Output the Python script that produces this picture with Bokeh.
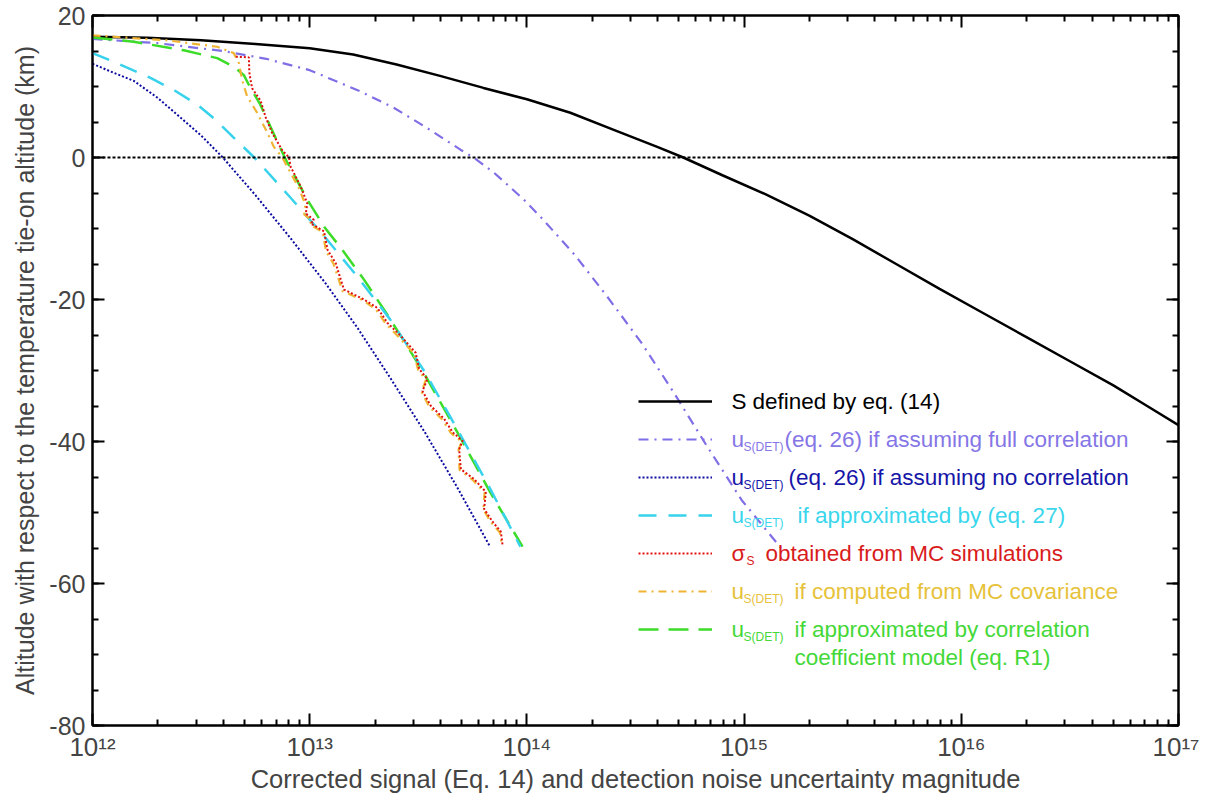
import numpy as np
from bokeh.plotting import figure
from bokeh.models import (Range1d, LogAxis, LinearAxis, FixedTicker, SingleIntervalTicker,
                          Span, Legend, LegendItem, Label)
from bokeh.embed import file_html
from bokeh.resources import INLINE

# ---------------- data (x given as log10 of the signal magnitude, y = altitude km) -------------
s_logx = [12.0, 12.25, 12.5, 12.75, 13.0, 13.2, 13.4, 13.6, 13.8, 14.0, 14.2, 14.4, 14.6, 14.72,
          14.9, 15.1, 15.3, 15.5, 15.7, 15.9, 16.1, 16.3, 16.5, 16.7, 16.85, 17.0]
s_alt = [17.0, 16.85, 16.5, 16.0, 15.4, 14.5, 13.1, 11.5, 9.8, 8.2, 6.3, 3.9, 1.5, 0.0,
         -2.5, -5.2, -8.2, -11.5, -15.0, -18.5, -21.9, -25.3, -28.7, -32.1, -34.9, -37.7]

full_logx = [12.0, 12.3, 12.6, 12.8, 13.0, 13.234, 13.387, 13.541, 13.694, 13.755, 13.847, 13.985,
             14.07, 14.22, 14.37, 14.53, 14.68, 14.83, 14.99, 15.17]
full_alt = [16.7, 16.1, 15.0, 13.9, 12.3, 9.3, 7.0, 4.15, 1.1, 0.0, -2.1, -5.9,
            -8.6, -13.7, -19.6, -26.2, -33.3, -40.7, -48.3, -55.0]

nocorr_logx = [12.0, 12.1, 12.19, 12.3, 12.41, 12.5, 12.6, 12.75, 12.91, 13.07, 13.22, 13.37, 13.53,
               13.68, 13.83]
nocorr_alt = [13.2, 11.9, 10.8, 8.4, 5.5, 3.1, 0.0, -5.3, -11.3, -17.6, -24.0, -31.0, -38.7,
              -46.5, -54.8]

eq27_logx = [12.0, 12.12, 12.267, 12.38, 12.48, 12.567, 12.65, 12.745, 12.91, 13.07, 13.22, 13.37,
             13.53, 13.68, 13.83, 13.97]
eq27_alt = [14.7, 13.2, 11.2, 9.4, 7.5, 5.3, 2.8, 0.0, -5.6, -11.2, -16.8, -22.8, -30.2, -38.3,
            -46.6, -54.8]

mc_logx = [12.66, 12.72, 12.722, 12.73, 12.736, 12.774, 12.797, 12.828, 12.874, 12.905, 12.912,
           12.959, 12.989, 12.982, 13.020, 13.005, 13.066, 13.082, 13.120, 13.143, 13.158, 13.250,
           13.312, 13.358, 13.419, 13.488, 13.504, 13.542, 13.519, 13.558, 13.619, 13.658, 13.704,
           13.688, 13.696, 13.757, 13.811, 13.803, 13.842, 13.880, 13.888]
mc_alt = [14.2, 14.1, 12.0, 10.5, 9.7, 8.0, 5.7, 3.4, 1.0, 0.0, -1.3, -4.1, -6.5, -7.9, -8.8, -9.3,
          -10.4, -13.0, -14.9, -17.2, -18.6, -20.0, -21.2, -23.3, -25.1, -27.5, -29.8, -31.2, -32.9,
          -35.0, -36.8, -38.7, -39.9, -41.1, -43.9, -45.3, -47.1, -49.5, -51.3, -52.7, -54.6]

cov_logx = [12.0, 12.344, 12.574, 12.65, 12.674, 12.689, 12.712, 12.758, 12.80, 12.835, 12.874, 12.90,
            12.95, 12.98, 12.975, 13.01, 13.0, 13.06, 13.075, 13.11, 13.135, 13.15, 13.245, 13.305,
            13.35, 13.41, 13.48, 13.50, 13.535, 13.515, 13.55, 13.61, 13.65, 13.70, 13.685, 13.69,
            13.75, 13.805, 13.80, 13.835, 13.875, 13.885]
cov_alt = [17.2, 16.5, 15.6, 14.7, 13.3, 10.9, 8.6, 6.3, 3.8, 1.5, 0.0, -1.5, -4.3, -6.6, -8.0, -8.9,
           -9.4, -10.5, -13.2, -15.0, -17.3, -18.8, -20.1, -21.4, -23.4, -25.3, -27.6, -30.0, -31.3,
           -33.0, -35.1, -36.9, -38.8, -40.0, -41.2, -44.0, -45.4, -47.2, -49.6, -51.4, -52.8, -54.6]

r1_logx = [12.0, 12.19, 12.42, 12.574, 12.65, 12.697, 12.728, 12.77, 12.82, 12.885, 12.99, 13.07,
           13.15, 13.25, 13.35, 13.45, 13.53, 13.68, 13.83, 13.98]
r1_alt = [16.9, 16.3, 15.1, 14.0, 12.8, 11.6, 9.75, 7.6, 4.3, 0.0, -6.0, -9.9, -13.0, -17.2, -21.8,
          -26.6, -30.6, -38.7, -47.1, -54.8]

x_tick_exponents = [12, 13, 14, 15, 16, 17]
x_tick_labels = ["10\u00b9\u00b2", "10\u00b9\u00b3", "10\u00b9\u2074", "10\u00b9\u2075",
                 "10\u00b9\u2076", "10\u00b9\u2077"]
y_tick_values = [-80, -60, -40, -20, 0, 20]
y_tick_labels = ["-80", "-60", "-40", "-20", "0", "20"]

legend_symbols = ["S", "u", "u", "u", "\u03c3", "u", "u"]
legend_subs = ["", "S(DET)", "S(DET)", "S(DET)", "S", "S(DET)", "S(DET)"]
legend_texts = ["defined by eq. (14)", "(eq. 26) if assuming full correlation",
                "(eq. 26) if assuming no correlation", "if approximated by (eq. 27)",
                "obtained from MC simulations", "if computed from MC covariance",
                "if approximated by correlation"]
legend_extra = "coefficient model (eq. R1)"
text_colors = ["#000000", "#8576E6", "#1616A8", "#3AD6EC", "#D81C1C", "#E6C23A", "#44D838"]

FONT = "Liberation Sans"

# ---------------- figure ----------------
W, H = 1199, 796
TOP = 15
p = figure(width=W, height=H, x_axis_type="log", output_backend="svg", toolbar_location=None,
           x_range=Range1d(1e12, 1e17), y_range=Range1d(-80, 20),
           min_border_left=92, min_border_right=21, min_border_top=TOP, min_border_bottom=71)
p.background_fill_color = "white"
p.border_fill_color = "white"
p.outline_line_color = "black"
p.outline_line_width = 2
p.xgrid.visible = False
p.ygrid.visible = False

major_x = [10.0 ** e for e in x_tick_exponents]
minor_x = [m * 10.0 ** e for e in x_tick_exponents[:-1] for m in range(2, 10)]
xticker = FixedTicker(ticks=major_x, minor_ticks=minor_x)
yticker = SingleIntervalTicker(interval=20, num_minor_ticks=4)


def style_axis(ax):
    ax.axis_line_color = "black"
    ax.axis_line_width = 2
    ax.major_tick_line_color = "black"
    ax.major_tick_line_width = 2
    ax.minor_tick_line_color = "black"
    ax.minor_tick_line_width = 2
    ax.major_tick_in = 12
    ax.major_tick_out = 0
    ax.minor_tick_in = 6
    ax.minor_tick_out = 0


xa = p.xaxis[0]
xa.ticker = xticker
style_axis(xa)
xa.major_label_overrides = {v: t for v, t in zip(major_x, x_tick_labels)}
xa.major_label_text_font = FONT
xa.major_label_text_font_size = "26px"
xa.major_label_standoff = 6
xa.axis_label = "Corrected signal (Eq. 14) and detection noise uncertainty magnitude"
xa.axis_label_text_font = FONT
xa.axis_label_text_font_size = "25.5px"
xa.axis_label_text_font_style = "normal"
xa.axis_label_standoff = 0

ya = p.yaxis[0]
ya.ticker = yticker
style_axis(ya)
ya.major_label_overrides = {v: t for v, t in zip(y_tick_values, y_tick_labels)}
ya.major_label_text_font = FONT
ya.major_label_text_font_size = "25px"
ya.major_label_standoff = 7
ya.axis_label = "Altitude with respect to the temperature tie-on altitude (km)"
ya.axis_label_text_font = FONT
ya.axis_label_text_font_size = "25px"
ya.axis_label_text_font_style = "normal"
ya.axis_label_standoff = 7

top_ax = LogAxis(ticker=xticker, major_label_text_font_size="2px", major_label_text_alpha=0,
                 major_label_standoff=0)
style_axis(top_ax)
p.add_layout(top_ax, "above")
right_ax = LinearAxis(ticker=yticker, major_label_text_font_size="2px", major_label_text_alpha=0,
                      major_label_standoff=0)
style_axis(right_ax)
p.add_layout(right_ax, "right")

# zero line
p.add_layout(Span(location=0, dimension="width", line_color="black", line_width=2, line_dash="3 2"))


def xs(lx):
    return [10.0 ** v for v in lx]


r_s = p.line(xs(s_logx), s_alt, line_color="black", line_width=2.5)
r_full = p.line(xs(full_logx), full_alt, line_color="#7F6FE6", line_width=2.2, line_dash="10 6 2 6")
r_no = p.line(xs(nocorr_logx), nocorr_alt, line_color="#0A0AA0", line_width=2, line_dash="2 2")
r_r1 = p.line(xs(r1_logx), r1_alt, line_color="#3CDC28", line_width=2.5, line_dash="20 10")
r_eq27 = p.line(xs(eq27_logx), eq27_alt, line_color="#38D2EC", line_width=2.5, line_dash="18 12")
r_cov = p.line(xs(cov_logx), cov_alt, line_color="#F0B434", line_width=2.2, line_dash="8 5 2 5")
r_mc = p.line(xs(mc_logx), mc_alt, line_color="#E01010", line_width=2, line_dash="2 2")

legend = Legend(items=[LegendItem(label="x", renderers=[r]) for r in
                       [r_s, r_full, r_no, r_eq27, r_mc, r_cov, r_r1]],
                location=(546, 86), glyph_width=74, glyph_height=20, label_height=20,
                label_width=2, label_standoff=2, spacing=18, padding=0, margin=0,
                label_text_font_size="10px", label_text_alpha=0,
                background_fill_alpha=0, border_line_alpha=0)
p.add_layout(legend)

# ---- legend texts (positions given in page pixels, converted to data coordinates) ----
X0, X1, Y0, Y1 = 92.0, 1178.0, float(TOP), 725.0


def to_data(px, py):
    lx = 12 + (px - X0) / (X1 - X0) * 5
    y = 20 - (py - Y0) / (Y1 - Y0) * 100
    return 10 ** lx, y


row_y = [401, 439, 477, 515, 553, 591, 629]
text_x = [752, 784, 788, 797, 765, 794, 794]
sub_x = [0, 743, 743, 743, 746, 743, 743]
for i in range(7):
    c = text_colors[i]
    x, y = to_data(731, row_y[i])
    p.add_layout(Label(x=x, y=y, text=legend_symbols[i], text_font=FONT, text_font_size="22.5px",
                       text_color=c, text_baseline="middle", text_align="left"))
    if legend_subs[i]:
        x, y = to_data(sub_x[i], row_y[i] + 7)
        p.add_layout(Label(x=x, y=y, text=legend_subs[i], text_font=FONT, text_font_size="12px",
                           text_color=c, text_baseline="middle", text_align="left"))
    x, y = to_data(text_x[i], row_y[i])
    p.add_layout(Label(x=x, y=y, text=legend_texts[i], text_font=FONT, text_font_size="22.5px",
                       text_color=c, text_baseline="middle", text_align="left"))
x, y = to_data(794, 657)
p.add_layout(Label(x=x, y=y, text=legend_extra, text_font=FONT, text_font_size="22.5px",
                   text_color=text_colors[6], text_baseline="middle", text_align="left"))

open("out.html", "w").write(file_html(p, INLINE))
